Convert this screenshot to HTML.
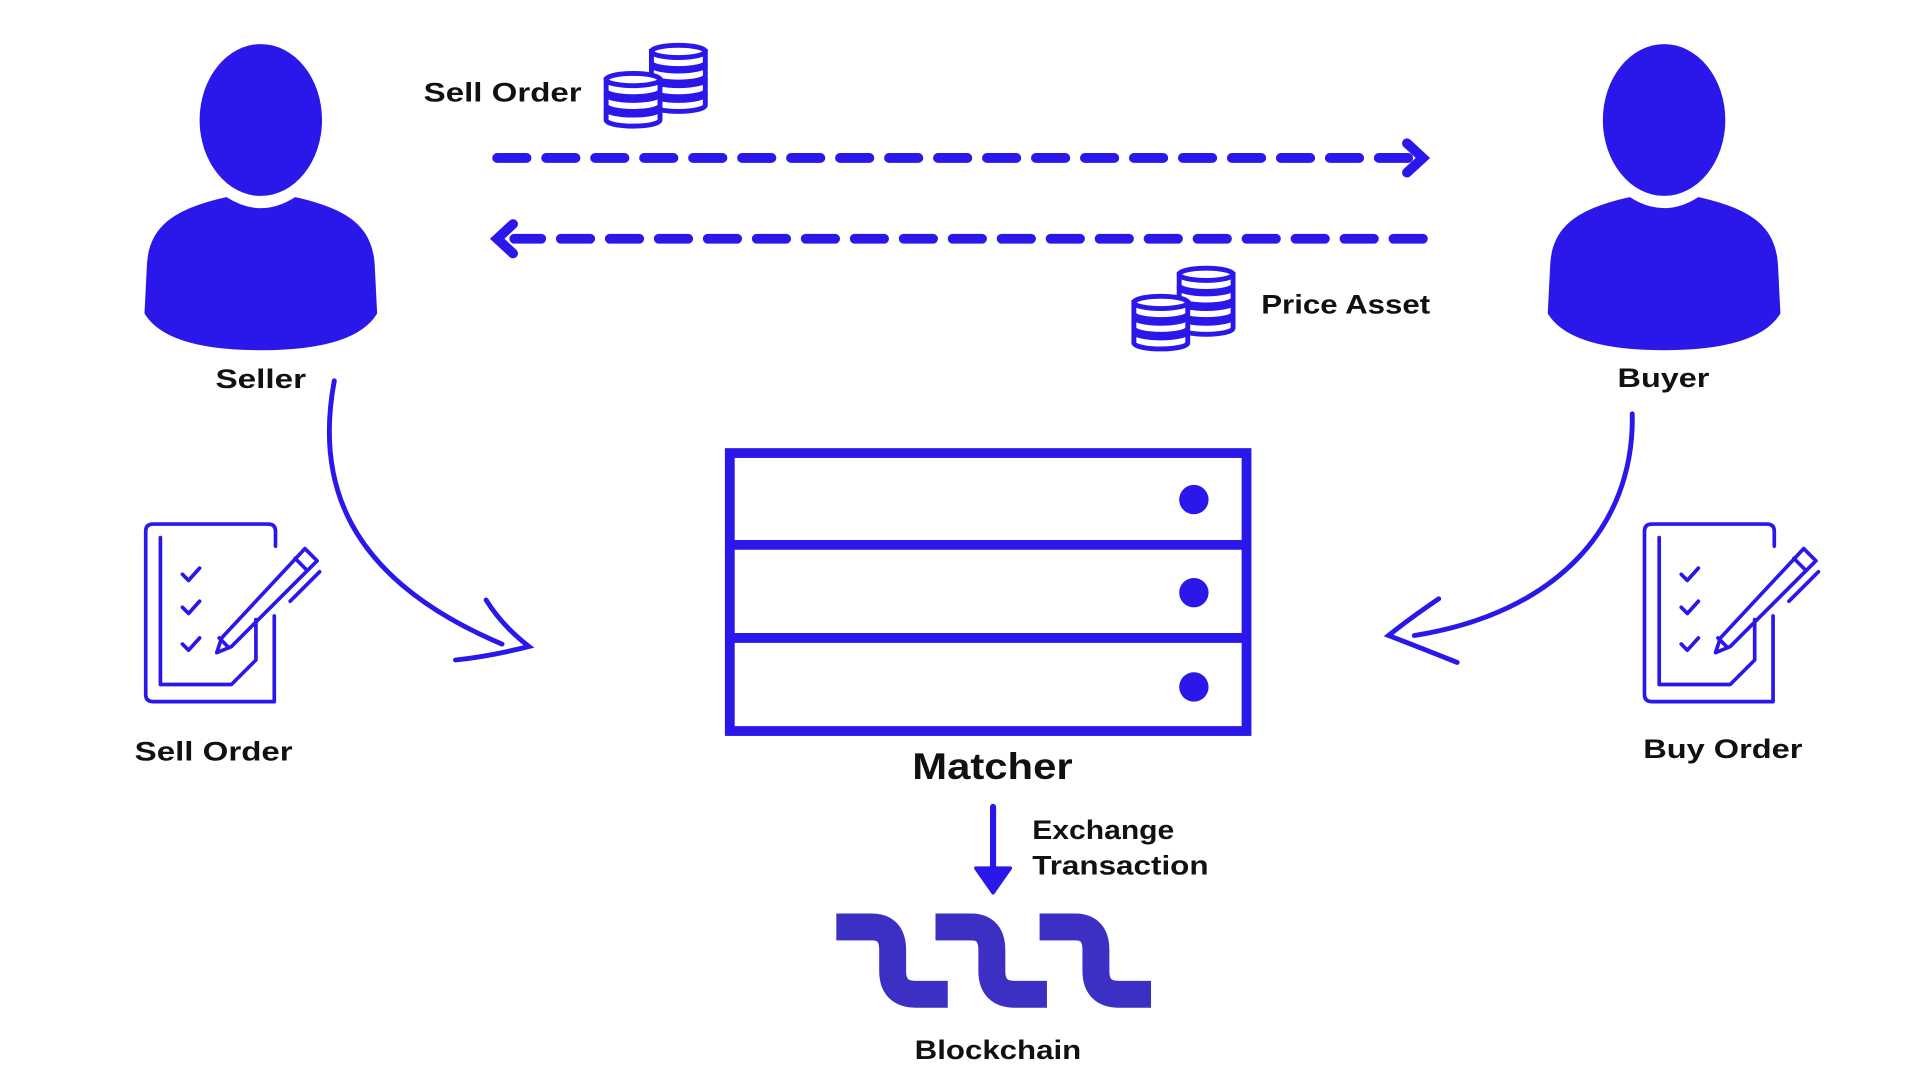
<!DOCTYPE html>
<html><head><meta charset="utf-8"><style>
html,body{margin:0;padding:0;background:#fff;}
svg{display:block;}
text{font-family:"Liberation Sans",sans-serif;font-weight:bold;fill:#111;}
</style></head><body>
<svg width="1920" height="1080" viewBox="0 0 1568 880" xmlns="http://www.w3.org/2000/svg">
<defs>
<g id="person">
<path d="M-95 158 L-93 118 C-91 88 -73 73 -28 63 Q0 81 28 63 C73 73 91 88 93 118 L95 158 Q77 188 0 188 Q-77 188 -95 158 Z" fill="#2a17ea"/>
<ellipse cx="0" cy="0" rx="57" ry="69" fill="#fff"/>
<ellipse cx="0" cy="0" rx="50" ry="62" fill="#2a17ea"/>
</g>
<g id="coin">
<path d="M-22 0 L-22 9 A22 5 0 0 0 22 9 L22 0 Z" fill="#fff" stroke="#2a17ea" stroke-width="4"/>
<ellipse cx="0" cy="0" rx="22" ry="5" fill="#fff" stroke="#2a17ea" stroke-width="4"/>
</g>
<g id="coins">
<use href="#coin" x="554" y="76"/><use href="#coin" x="554" y="64"/><use href="#coin" x="554" y="52"/><use href="#coin" x="554" y="41"/>
<use href="#coin" x="517" y="88"/><use href="#coin" x="517" y="76"/><use href="#coin" x="517" y="64"/>
</g>
<g id="clip" fill="none" stroke="#2a17ea" stroke-width="3" stroke-linecap="round" stroke-linejoin="round">
<path d="M105 502 L105 572 Q105 572 100 572 L6 572 Q0 572 0 566 L0 433 Q0 427 6 427 L100 427 Q106 427 106 433 L106 445"/>
<path d="M12 438 L12 558 L70 558 L90 538 L90 505"/>
<path d="M30 468 L35 473 L44 463 M30 495 L35 500 L44 490 M30 525 L35 530 L44 520"/>
<path d="M130 447 L140 457 L70 527 L58 532 L62 520 Z M122 455 L132 465 M60 520 L68 528 M142 466 L118 490"/>
</g>
</defs>

<use href="#person" x="213" y="97"/>
<use href="#person" x="1359" y="97"/>
<text x="176" y="316" font-size="22" textLength="74" lengthAdjust="spacingAndGlyphs">Seller</text>
<text x="1321" y="315" font-size="22" textLength="75" lengthAdjust="spacingAndGlyphs">Buyer</text>

<text x="346" y="82" font-size="22" textLength="129" lengthAdjust="spacingAndGlyphs">Sell Order</text>
<use href="#coins"/>
<use href="#coins" x="431" y="182"/>
<text x="1030" y="255" font-size="22" textLength="138" lengthAdjust="spacingAndGlyphs">Price Asset</text>

<g stroke="#2a17ea" stroke-width="8" stroke-linecap="round" fill="none">
<line x1="406" y1="128" x2="1150" y2="128" stroke-dasharray="24 16"/>
<path d="M1149 116 L1162 128 L1149 140"/>
<line x1="1162" y1="194" x2="420" y2="194" stroke-dasharray="24 16"/>
<path d="M419 182 L406 194 L419 206"/>
</g>

<g fill="none" stroke="#2a17ea" stroke-width="8">
<rect x="596" y="369" width="422" height="227"/>
<line x1="596" y1="444" x2="1018" y2="444"/>
<line x1="596" y1="520" x2="1018" y2="520"/>
</g>
<g fill="#2a17ea"><circle cx="975" cy="407" r="12"/><circle cx="975" cy="483" r="12"/><circle cx="975" cy="560" r="12"/></g>
<text x="745" y="635" font-size="30" textLength="131" lengthAdjust="spacingAndGlyphs">Matcher</text>

<line x1="811" y1="658" x2="811" y2="718" stroke="#2a17ea" stroke-width="5" stroke-linecap="round"/>
<path d="M797 708 L811 728 L825 708 Z" fill="#2a17ea" stroke="#2a17ea" stroke-width="3" stroke-linejoin="round"/>
<text x="843" y="684" font-size="22" textLength="116" lengthAdjust="spacingAndGlyphs">Exchange</text>
<text x="843" y="713" font-size="22" textLength="144" lengthAdjust="spacingAndGlyphs">Transaction</text>

<g fill="none" stroke="#3b2fc4" stroke-width="22">
<path d="M683 756 L712 756 Q729 756 729 775 L729 792 Q729 811 748 811 L774 811"/>
<path d="M764 756 L793 756 Q810 756 810 775 L810 792 Q810 811 829 811 L855 811"/>
<path d="M849 756 L878 756 Q895 756 895 775 L895 792 Q895 811 914 811 L940 811"/>
</g>
<text x="747" y="864" font-size="22" textLength="136" lengthAdjust="spacingAndGlyphs">Blockchain</text>

<g fill="none" stroke="#2a17ea" stroke-width="4" stroke-linecap="round">
<path d="M273 310 C258 390 280 470 410 525"/>
<path d="M397 489 Q410 510 432 527 Q400 535 372 538"/>
<path d="M1333 337 C1335 430 1270 500 1155 518"/>
<path d="M1175 488 Q1150 505 1134 518 Q1160 528 1190 540"/>
</g>

<use href="#clip" x="119"/>
<use href="#clip" x="1343"/>
<text x="110" y="620" font-size="22" textLength="129" lengthAdjust="spacingAndGlyphs">Sell Order</text>
<text x="1342" y="618" font-size="22" textLength="130" lengthAdjust="spacingAndGlyphs">Buy Order</text>
</svg>
</body></html>
